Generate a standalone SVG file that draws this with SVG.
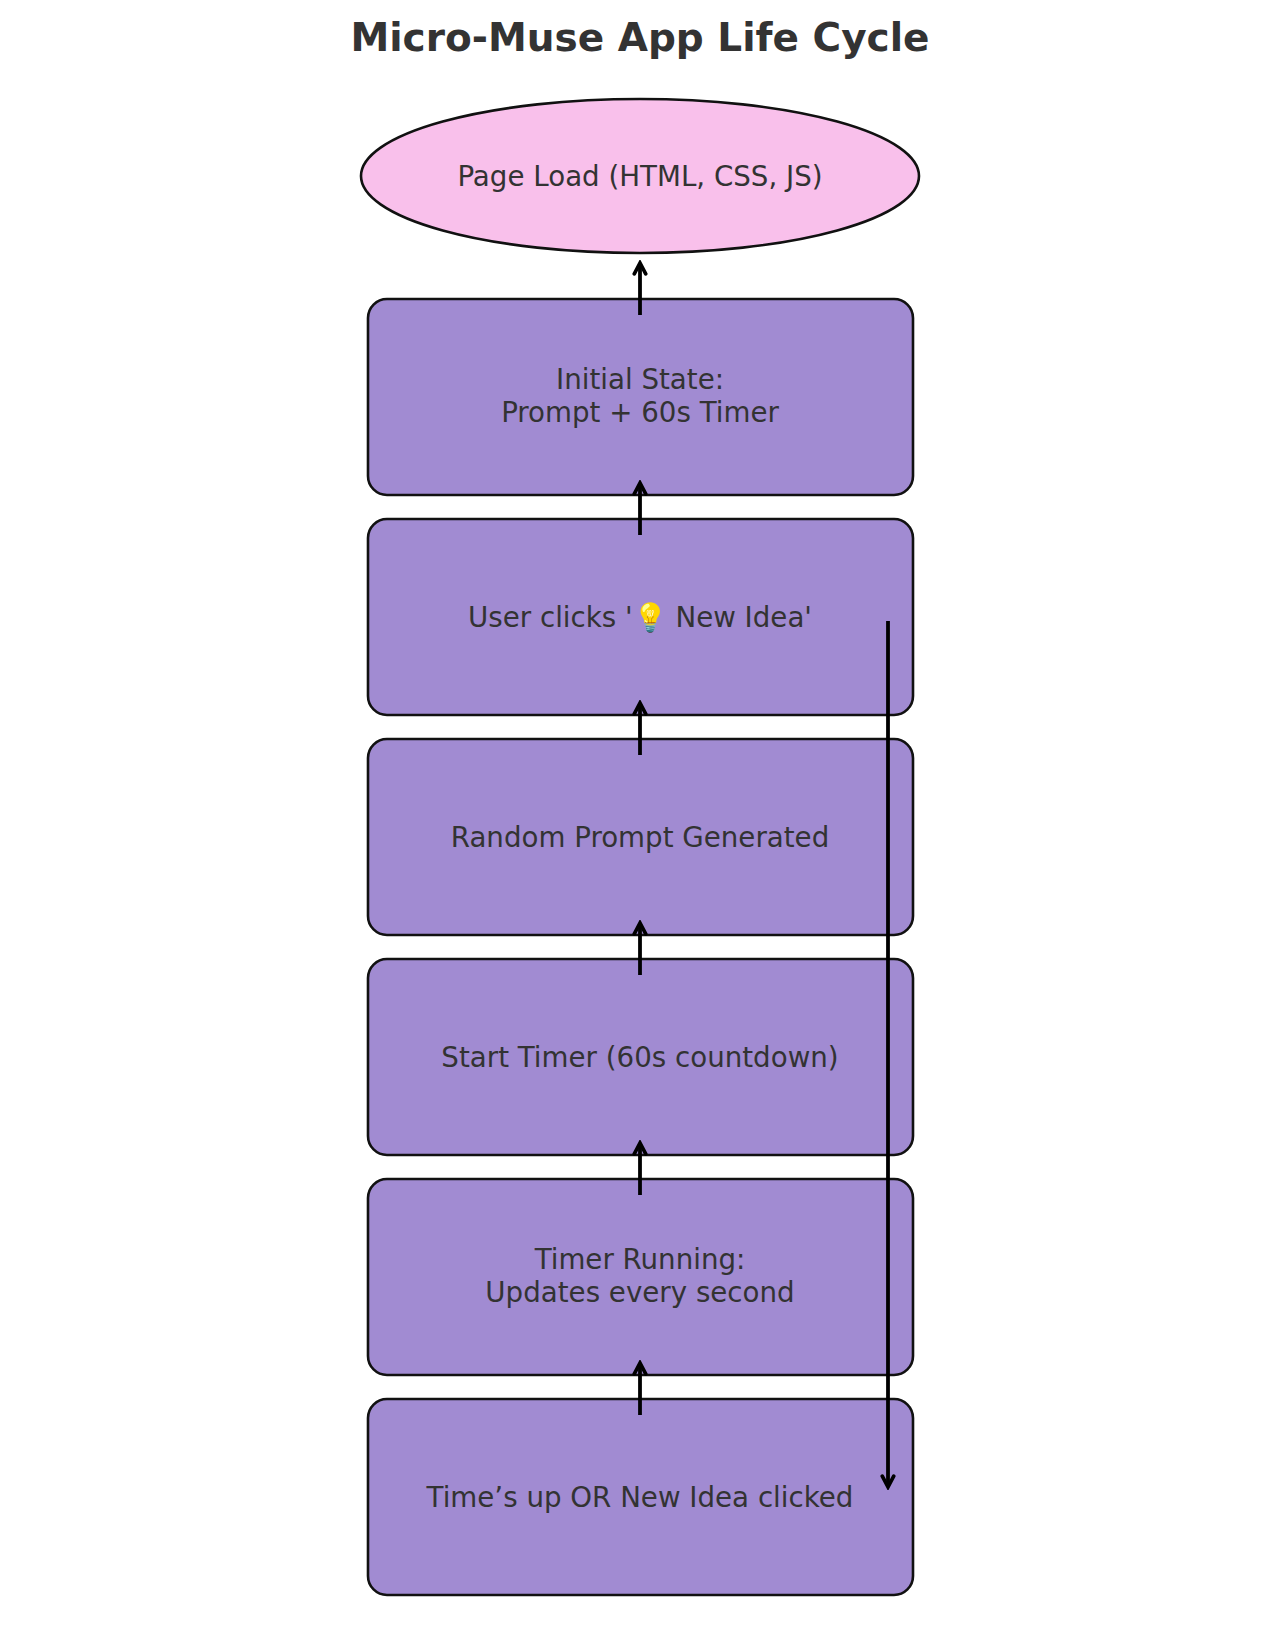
<svg xmlns="http://www.w3.org/2000/svg" width="1280" height="1626" viewBox="0 0 1280 1626">
<defs>
<style>
.title{font-family:"DejaVu Sans",sans-serif;font-weight:bold;font-size:39px;fill:#333333;text-anchor:middle}
.lbl{font-family:"DejaVu Sans",sans-serif;font-size:27.7px;fill:#333333;text-anchor:middle}
.box{fill:#a18bd2;stroke:#111111;stroke-width:2.6}
.ell{fill:#f9c0eb;stroke:#111111;stroke-width:2.6}
.conn{stroke:#000000;stroke-width:3.8;fill:none;marker-end:url(#ah)}
</style>
<marker id="ah" viewBox="0 0 12 12" refX="10" refY="6" markerWidth="4.3" markerHeight="4.3" orient="auto" markerUnits="strokeWidth">
<path d="M2,1.8 L10,6 L2,10.2" fill="none" stroke="#000" stroke-width="2.7" stroke-linecap="round" stroke-linejoin="miter"/>
</marker>
</defs>
<rect width="1280" height="1626" fill="#ffffff"/>
<text class="title" x="640" y="51">Micro-Muse App Life Cycle</text>
<g id="page-load"><ellipse class="ell" cx="640" cy="176" rx="279" ry="77"/><text class="lbl" x="640" y="186">Page Load (HTML, CSS, JS)</text></g>
<g id="initial-state"><rect class="box" x="368" y="299" width="545" height="196" rx="19"/><text class="lbl" x="640" y="389">Initial State:</text><text class="lbl" x="640" y="422">Prompt + 60s Timer</text></g>
<g id="user-clicks"><rect class="box" x="368" y="519" width="545" height="196" rx="19"/><text class="lbl" x="640" y="627">User clicks '💡 New Idea'</text></g>
<g id="random-prompt"><rect class="box" x="368" y="739" width="545" height="196" rx="19"/><text class="lbl" x="640" y="847">Random Prompt Generated</text></g>
<g id="start-timer"><rect class="box" x="368" y="959" width="545" height="196" rx="19"/><text class="lbl" x="640" y="1067">Start Timer (60s countdown)</text></g>
<g id="timer-running"><rect class="box" x="368" y="1179" width="545" height="196" rx="19"/><text class="lbl" x="640" y="1269">Timer Running:</text><text class="lbl" x="640" y="1302">Updates every second</text></g>
<g id="times-up"><rect class="box" x="368" y="1399" width="545" height="196" rx="19"/><text class="lbl" x="640" y="1507">Time’s up OR New Idea clicked</text></g>
<g id="connectors">
<line class="conn" x1="640" y1="315" x2="640" y2="263"/>
<line class="conn" x1="640" y1="535" x2="640" y2="483"/>
<line class="conn" x1="640" y1="755" x2="640" y2="703"/>
<line class="conn" x1="640" y1="975" x2="640" y2="923"/>
<line class="conn" x1="640" y1="1195" x2="640" y2="1143"/>
<line class="conn" x1="640" y1="1415" x2="640" y2="1363"/>
<line class="conn" x1="888" y1="621" x2="888" y2="1487"/>
</g>
</svg>
